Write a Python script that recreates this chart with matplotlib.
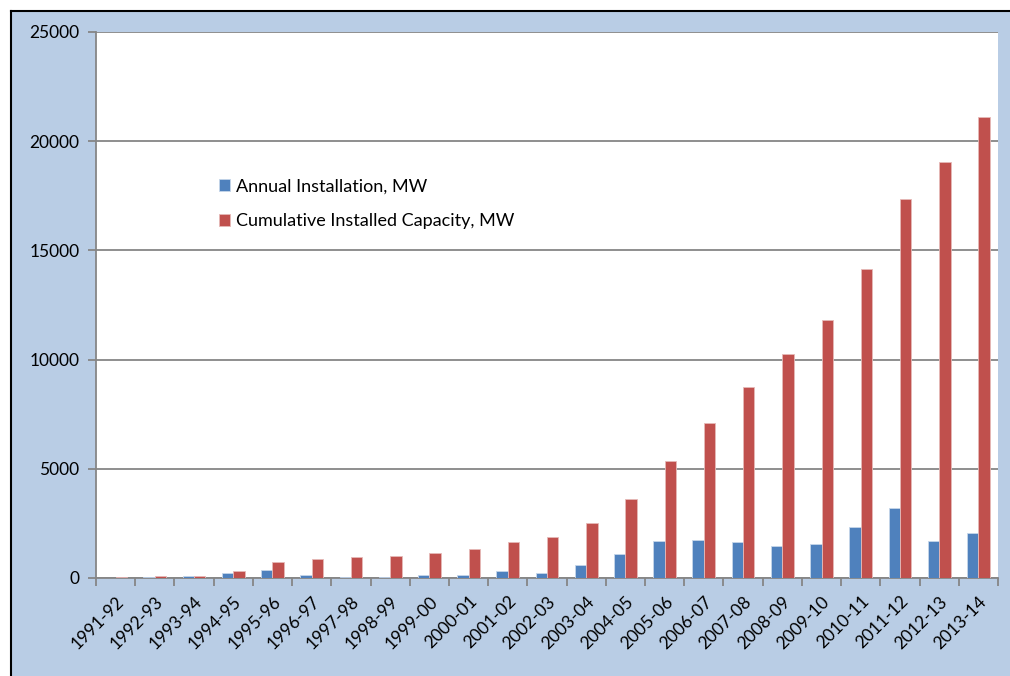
import matplotlib.pyplot as plt
import numpy as np
from matplotlib.patches import Rectangle
from matplotlib.lines import Line2D

years = ["1991-92", "1992-93", "1993-94", "1994-95", "1995-96", "1996-97",
         "1997-98", "1998-99", "1999-00", "2000-01", "2001-02", "2002-03",
         "2003-04", "2004-05", "2005-06", "2006-07", "2007-08", "2008-09",
         "2009-10", "2010-11", "2011-12", "2012-13", "2013-14"]
annual = [10, 30, 70, 215, 370, 140, 65, 50, 120, 150, 335, 230,
          600, 1110, 1710, 1720, 1650, 1480, 1560, 2340, 3190, 1700, 2080]
cumulative = [40, 70, 110, 340, 720, 880, 960, 1010, 1160, 1340, 1660, 1890,
              2520, 3630, 5340, 7090, 8760, 10250, 11810, 14160, 17350, 19050, 21130]

BG = "#b9cde5"
BLUE = "#4f81bd"
RED = "#c0504d"
GRID = "#868686"

plt.rcParams['font.family'] = ['Lato', 'DejaVu Sans']

fig = plt.figure(figsize=(10.1, 6.76), dpi=100, facecolor="white")
# light blue chart area with black frame on the left and top
x0 = 10.5 / 1010
y0 = 1 - 10.5 / 676
fig.patches.append(Rectangle((x0, 0), 1 - x0, y0, transform=fig.transFigure,
                             facecolor=BG, edgecolor="none", zorder=-5))
fig.lines.append(Line2D([x0, x0], [0, y0], transform=fig.transFigure,
                        color="black", linewidth=1.5, zorder=-4))
fig.lines.append(Line2D([x0, 1], [y0, y0], transform=fig.transFigure,
                        color="black", linewidth=1.5, zorder=-4))

ax = fig.add_axes([96 / 1010, 1 - 578 / 676, (998 - 96) / 1010, (578 - 32) / 676])
ax.set_facecolor("white")

x = np.arange(len(years))
w = 0.29
ax.bar(x - w / 2, annual, w, color=BLUE, edgecolor="#c6d6ea", linewidth=0.6,
       label="Annual Installation, MW", zorder=3)
ax.bar(x + w / 2, cumulative, w, color=RED, edgecolor="#e6b9b8", linewidth=0.6,
       label="Cumulative Installed Capacity, MW", zorder=3)

ax.set_xlim(-0.5, len(years) - 0.5)
ax.set_ylim(0, 25000)
ax.set_yticks(range(0, 25001, 5000))
ax.yaxis.grid(True, color=GRID, linewidth=1.3)
ax.set_axisbelow(True)

ax.set_xticks(np.arange(-0.5, len(years), 1.0), minor=False)
ax.set_xticklabels([])
ax.set_xticks(x, minor=True)
ax.set_xticklabels(years, minor=True, rotation=45, ha="right", va="top",
                   rotation_mode="anchor", fontsize=12.5)
ax.tick_params(axis="x", which="minor", length=0, pad=11)
ax.tick_params(axis="x", which="major", length=6, color=GRID, width=1.3)
ax.tick_params(axis="y", length=6, color=GRID, width=1.3, labelsize=12.5, pad=6)

for side in ["top", "right"]:
    ax.spines[side].set_visible(False)
for side in ["left", "bottom"]:
    ax.spines[side].set_color(GRID)
    ax.spines[side].set_linewidth(1.3)

ax.legend(loc="upper left", bbox_to_anchor=(0.128, 0.745), frameon=False,
          fontsize=13, handlelength=0.6, handleheight=0.6, handletextpad=0.35,
          labelspacing=1.05, borderaxespad=0)

fig.savefig("out.png", dpi=100, facecolor="white")
